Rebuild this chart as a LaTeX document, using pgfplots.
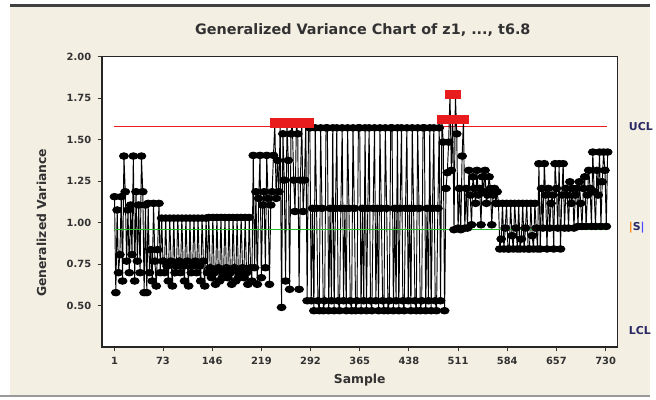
\documentclass[border=0pt]{standalone}
\usepackage{pgfplots}
\pgfplotsset{compat=1.18}
\usepackage{fontspec}
\setmainfont{DejaVu Sans}
\definecolor{bg}{RGB}{244,239,227}
\definecolor{txt}{RGB}{50,50,50}
\definecolor{ucl}{RGB}{232,28,28}
\definecolor{cl}{RGB}{40,190,40}
\definecolor{lab}{RGB}{40,40,100}
\begin{document}
\begin{tikzpicture}[x=1pt,y=1pt]
\fill[white] (0,0) rectangle (656,403);
\fill[bg] (10,3) rectangle (656,397);
\fill[black!75] (10,396) rectangle (656,398.5);
\fill[black!40] (0,2) rectangle (656,4);
\begin{axis}[
  at={(103pt,53pt)}, anchor=south west, scale only axis,
  width=520pt, height=293pt,
  xmin=-17.4, xmax=747.6, ymin=0.25, ymax=2.0,
  clip=false,
  axis background/.style={fill=white},
  axis line style={black!85, line width=1.3pt},
  tick align=outside, tick pos=left,
  major tick length=4.5pt,
  tick style={black!80, line width=0.8pt},
  xtick={1,73,146,219,292,365,438,511,584,657,730},
  xticklabels={1,73,146,219,292,365,438,511,584,657,730},
  ytick={0.5,0.75,1,1.25,1.5,1.75,2},
  yticklabels={0.50,0.75,1.00,1.25,1.50,1.75,2.00},
  ticklabel style={font=\bfseries\fontsize{10}{12}\selectfont, text=txt},
  yticklabel style={xshift=-3pt},
  xticklabel style={yshift=-2pt},
  xlabel={Sample}, ylabel={Generalized Variance},
  label style={font=\bfseries\fontsize{12.5}{15}\selectfont, text=txt},
  xlabel style={at={(axis description cs:0.5,-0.116)}, anchor=center},
  ylabel style={at={(axis description cs:-0.1175,0.427)}, anchor=center},
]
\addplot[ucl, line width=1.6pt] coordinates {(1,1.577)(732,1.577)};
\addplot[black, line width=0.95pt, mark=*, mark size=3.3pt, mark options={xscale=1.35, draw=none, fill=black}] coordinates {
(1,1.155)(3,0.577)(5,1.075)(7,0.697)(9,0.806)(11,1.155)(13,0.647)(15,1.40)(17,1.185)(19,0.767)(21,1.075)(23,0.697)(25,1.105)(27,0.806)(29,1.40)(31,0.647)(33,1.185)(35,0.767)(37,1.105)(39,0.697)(41,1.40)(43,1.185)(45,0.577)(47,1.105)
(49,0.577)(51,1.115)(53,0.697)(55,0.836)(57,0.647)(59,1.115)(61,0.767)(63,0.617)(65,0.836)(67,1.115)(69,0.697)
(71,1.026)(73,0.767)(75,0.697)(77,1.026)(79,0.737)(81,0.647)(83,1.026)(85,0.767)(87,0.617)(89,1.026)(91,0.697)(93,0.737)
(95,1.026)(97,0.767)(99,0.697)(101,1.026)(103,0.737)(105,0.647)(107,1.026)(109,0.767)(111,0.617)(113,1.026)(115,0.697)(117,0.737)
(119,1.026)(121,0.767)(123,0.697)(125,1.026)(127,0.737)(129,0.647)(131,1.026)(133,0.767)(135,0.617)(137,1.026)(139,0.697)
(141,1.03)(143,0.727)(145,0.667)(147,1.03)(149,0.697)(151,0.627)(153,1.03)(155,0.727)(157,0.647)(159,1.03)(161,0.667)(163,0.697)
(165,1.03)(167,0.727)(169,0.667)(171,1.03)(173,0.697)(175,0.627)(177,1.03)(179,0.727)(181,0.647)(183,1.03)(185,0.667)(187,0.697)
(189,1.03)(191,0.727)(193,0.667)(195,1.03)(197,0.697)(199,0.627)(201,1.03)(203,0.727)(205,0.647)
(207,1.404)(209,0.727)(211,1.185)(213,0.627)(215,1.145)(217,1.404)(219,0.667)(221,1.105)(223,1.185)(225,0.727)(227,1.404)(229,1.145)(231,0.627)(233,1.105)(235,1.185)(237,1.404)(239,1.60)(241,1.145)(243,1.374)(245,1.185)
(247,1.60)(249,0.488)(251,1.534)(253,1.255)(255,0.647)(257,1.60)(259,1.374)(261,0.597)(263,1.534)(265,1.60)(267,1.255)(269,1.066)(271,1.60)(273,1.534)(275,0.597)(277,1.255)(279,1.60)(281,1.066)(283,1.255)(285,1.60)(287,0.528)(289,1.60)
(291,1.57)(293,0.528)(295,1.085)(297,0.468)(299,1.57)(301,1.085)(303,0.528)(305,0.468)(307,1.57)(309,1.085)(311,0.468)(313,0.528)
(315,1.57)(317,1.57)(319,0.468)(321,1.085)(323,0.528)(325,1.57)(327,0.468)(329,1.085)(331,1.57)(333,0.528)(335,0.468)(337,1.085)
(339,1.57)(341,0.528)(343,1.085)(345,0.468)(347,1.57)(349,1.085)(351,0.528)(353,0.468)(355,1.57)(357,1.085)(359,0.468)(361,0.528)
(363,1.57)(365,1.57)(367,0.468)(369,1.085)(371,0.528)(373,1.57)(375,0.468)(377,1.085)(379,1.57)(381,0.528)(383,0.468)(385,1.085)
(387,1.57)(389,0.528)(391,1.085)(393,0.468)(395,1.57)(397,1.085)(399,0.528)(401,0.468)(403,1.57)(405,1.085)(407,0.468)(409,0.528)
(411,1.57)(413,1.57)(415,0.468)(417,1.085)(419,0.528)(421,1.57)(423,0.468)(425,1.085)(427,1.57)(429,0.528)(431,0.468)(433,1.085)
(435,1.57)(437,0.528)(439,1.085)(441,0.468)(443,1.57)(445,1.085)(447,0.528)(449,0.468)(451,1.57)(453,1.085)(455,0.468)(457,0.528)
(459,1.57)(461,1.57)(463,0.468)(465,1.085)(467,0.528)(469,1.57)(471,0.468)(473,1.085)(475,1.57)(477,0.528)(479,0.468)(481,1.085)
(483,1.57)(485,0.528)(487,1.623)(489,1.484)(491,0.468)(493,1.205)
(495,1.30)(497,1.484)(499,1.773)(501,1.314)(503,1.623)(505,0.956)(507,1.773)(509,1.534)(511,0.966)(513,1.205)(515,0.956)(517,1.40)(519,1.623)(521,0.966)
(523,1.205)(525,0.966)(527,1.314)(529,1.165)(531,0.986)(533,1.275)(535,1.205)(537,1.115)(539,1.314)(541,1.165)(543,1.205)(545,0.986)(547,1.275)(549,1.185)(551,1.314)(553,1.115)(555,1.165)(557,1.275)(559,1.205)(561,0.986)(563,1.165)(565,1.205)(567,1.115)(569,1.185)
(571,1.115)(573,0.84)(575,0.90)(577,1.115)(579,0.84)(581,0.966)(583,1.115)(585,0.84)(587,0.84)(589,1.115)(591,0.92)(593,0.84)(595,1.115)(597,0.966)(599,0.84)(601,1.115)(603,0.84)(605,0.90)(607,1.115)(609,0.84)(611,0.966)(613,1.115)(615,0.84)(617,0.84)(619,1.115)(621,0.92)(623,0.84)(625,1.115)(627,0.966)(629,0.84)
(631,1.354)(633,0.84)(635,1.205)(637,0.966)(639,1.354)(641,1.165)(643,0.84)(645,1.205)(647,0.966)(649,1.115)(651,1.165)(653,0.84)(655,1.354)(657,1.205)(659,0.966)(661,1.354)(663,0.84)(665,1.165)(667,1.354)(669,0.966)(671,1.205)(673,1.165)(675,0.966)(677,1.245)(679,1.115)(681,1.205)(683,0.966)(685,1.165)(687,1.205)(689,0.976)(691,1.245)(693,1.115)(695,0.976)(697,1.205)(699,1.275)(701,0.976)(703,1.165)(705,1.314)(707,1.205)(709,0.976)(711,1.424)(713,1.185)(715,0.976)(717,1.314)(719,1.165)(721,1.424)(723,0.976)(725,1.245)(727,1.424)(729,1.314)(731,0.976)(733,1.424)
};
\addplot[only marks, mark=square*, mark size=4.2pt, mark options={xscale=1.2, draw=ucl, fill=ucl, line width=0.6pt}] coordinates {
(239,1.60)(247,1.60)(257,1.60)(265,1.60)(271,1.60)(279,1.60)(285,1.60)(289,1.60)(487,1.623)(499,1.773)(503,1.623)(507,1.773)(519,1.623)
};
\addplot[cl, line width=1pt] coordinates {(1,0.956)(732,0.956)};
\node[anchor=west, font=\bfseries\fontsize{11}{12}\selectfont, text=lab, xshift=8pt] at (axis cs:747.6,1.577) {UCL};
\node[anchor=west, font=\bfseries\fontsize{11}{12}\selectfont, text=lab, xshift=8pt] at (axis cs:747.6,0.966) {\textcolor{orange}{|}S\textcolor{blue!70}{|}};
\node[anchor=west, font=\bfseries\fontsize{11}{12}\selectfont, text=lab, xshift=8pt] at (axis cs:747.6,0.35) {LCL};
\end{axis}
\node[font=\bfseries\fontsize{14.5}{18}\selectfont, text=txt] at (366,373) {Generalized Variance Chart of z1, ..., t6.8};
\end{tikzpicture}
\end{document}
